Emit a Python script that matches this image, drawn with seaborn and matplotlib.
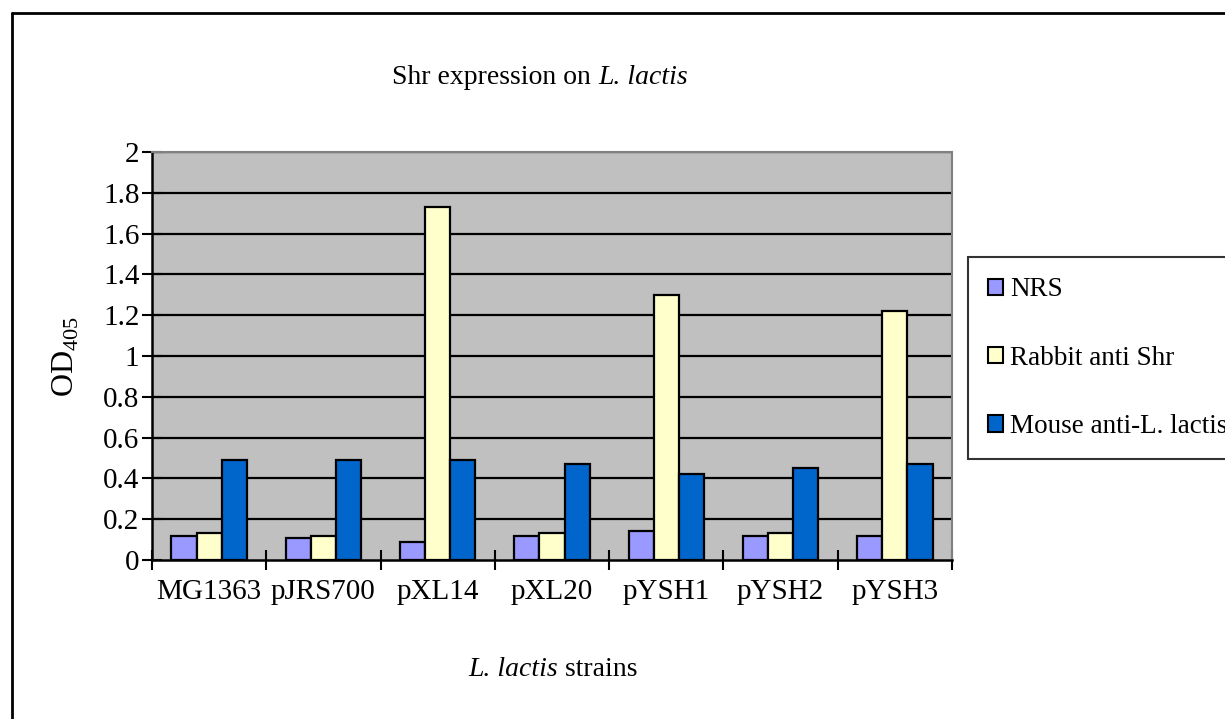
import numpy as np
import pandas as pd
import matplotlib
matplotlib.use("Agg")
import matplotlib.pyplot as plt
import seaborn as sns
from matplotlib.lines import Line2D
from matplotlib.patches import Patch

# 数据
strains = ["MG1363", "pJRS700", "pXL14", "pXL20", "pYSH1", "pYSH2", "pYSH3"]
series_names = ["NRS", "Rabbit anti Shr", "Mouse anti-L. lactis"]
nrs = [0.12, 0.11, 0.09, 0.12, 0.14, 0.12, 0.12]
rabbit_anti_shr = [0.13, 0.12, 1.73, 0.13, 1.30, 0.13, 1.22]
mouse_anti_lactis = [0.49, 0.49, 0.49, 0.47, 0.42, 0.45, 0.47]
y_ticks = [0, 0.2, 0.4, 0.6, 0.8, 1.0, 1.2, 1.4, 1.6, 1.8, 2.0]
colors = ["#9999FF", "#FFFFCC", "#0066CC"]

df = pd.DataFrame({
    "strain": strains * 3,
    "series": np.repeat(series_names, len(strains)),
    "value": nrs + rabbit_anti_shr + mouse_anti_lactis,
})

sns.set_style("white")
plt.rcParams["font.family"] = ["Liberation Serif", "DejaVu Serif"]
plt.rcParams["mathtext.fontset"] = "custom"
plt.rcParams["mathtext.rm"] = "Liberation Serif"
for key in ["text.color", "axes.labelcolor", "xtick.color", "ytick.color"]:
    plt.rcParams[key] = "black"

fig = plt.figure(figsize=(12.25, 7.19), dpi=100)
ax = fig.add_axes([152 / 1225, 1 - 560 / 719, 800 / 1225, 408 / 719])
ax.set_facecolor("#C0C0C0")

# 网格线
for v in y_ticks[1:]:
    ax.axhline(v, color="black", lw=1.6, zorder=0.5)

sns.barplot(data=df, x="strain", y="value", hue="series", order=strains,
            hue_order=series_names, palette=colors, width=0.66,
            edgecolor="black", linewidth=1.6, saturation=1, ax=ax,
            legend=False, zorder=2)

ax.set_xlim(-0.5, len(strains) - 0.5)
ax.set_ylim(0, 2)
ax.set_yticks(y_ticks)
ax.set_yticklabels([f"{v:g}" for v in y_ticks])
ax.tick_params(axis="y", which="major", direction="inout", length=14,
               width=1.5, color="black", labelsize=21, pad=2, left=True)
ax.set_xticks(range(len(strains)))
ax.set_xticklabels(strains)
ax.tick_params(axis="x", which="major", length=0, labelsize=21, pad=14)
ax.set_xticks(np.arange(-0.5, len(strains)), minor=True)
ax.tick_params(axis="x", which="minor", direction="inout", length=14,
               width=1.5, color="black", bottom=True)

for side in ["left", "bottom"]:
    ax.spines[side].set_color("black")
    ax.spines[side].set_linewidth(1.8)
for side in ["top", "right"]:
    ax.spines[side].set_color("#808080")
    ax.spines[side].set_linewidth(1.5)

ax.set_xlabel("")
ax.set_ylabel(r"OD$_{405}$", fontsize=23, labelpad=16)

# 标题（正体 + 斜体）
t1 = fig.text(392 / 1225, 1 - 78 / 719, "Shr expression on ",
              ha="left", va="center", fontsize=20)
fig.text(0, 0, "L. lactis", fontsize=20, style="italic",
         ha="left", va="center")
ax.annotate("L. lactis", xy=(1, 0.5), xycoords=t1, ha="left", va="center",
            fontsize=20, style="italic", annotation_clip=False)
fig.texts[-1].remove()

# x轴标题
t2 = fig.text(468 / 1225, 1 - 670 / 719, "L. lactis",
              ha="left", va="center", fontsize=20, style="italic")
ax.annotate(" strains", xy=(1, 0.5), xycoords=t2, ha="left", va="center",
            fontsize=20, annotation_clip=False)

# 图例
handles = [Patch(facecolor=c, edgecolor="black", linewidth=1.5) for c in colors]
leg = fig.legend(handles, series_names, loc="upper left",
                 bbox_to_anchor=(968 / 1225, 1 - 257 / 719),
                 frameon=True, fancybox=False, edgecolor="black",
                 fontsize=19.5, handlelength=0.55, handleheight=0.55,
                 handletextpad=0.25, labelspacing=1.6, borderpad=0.75,
                 borderaxespad=0)
leg.get_frame().set_linewidth(1.5)

# 外框
fig.add_artist(Line2D([12 / 1225, 12 / 1225], [0, 1 - 13 / 719],
                      transform=fig.transFigure, color="black", lw=2))
fig.add_artist(Line2D([12 / 1225, 1], [1 - 13 / 719, 1 - 13 / 719],
                      transform=fig.transFigure, color="black", lw=2))

fig.savefig("out.png", dpi=100)
plt.close(fig)
